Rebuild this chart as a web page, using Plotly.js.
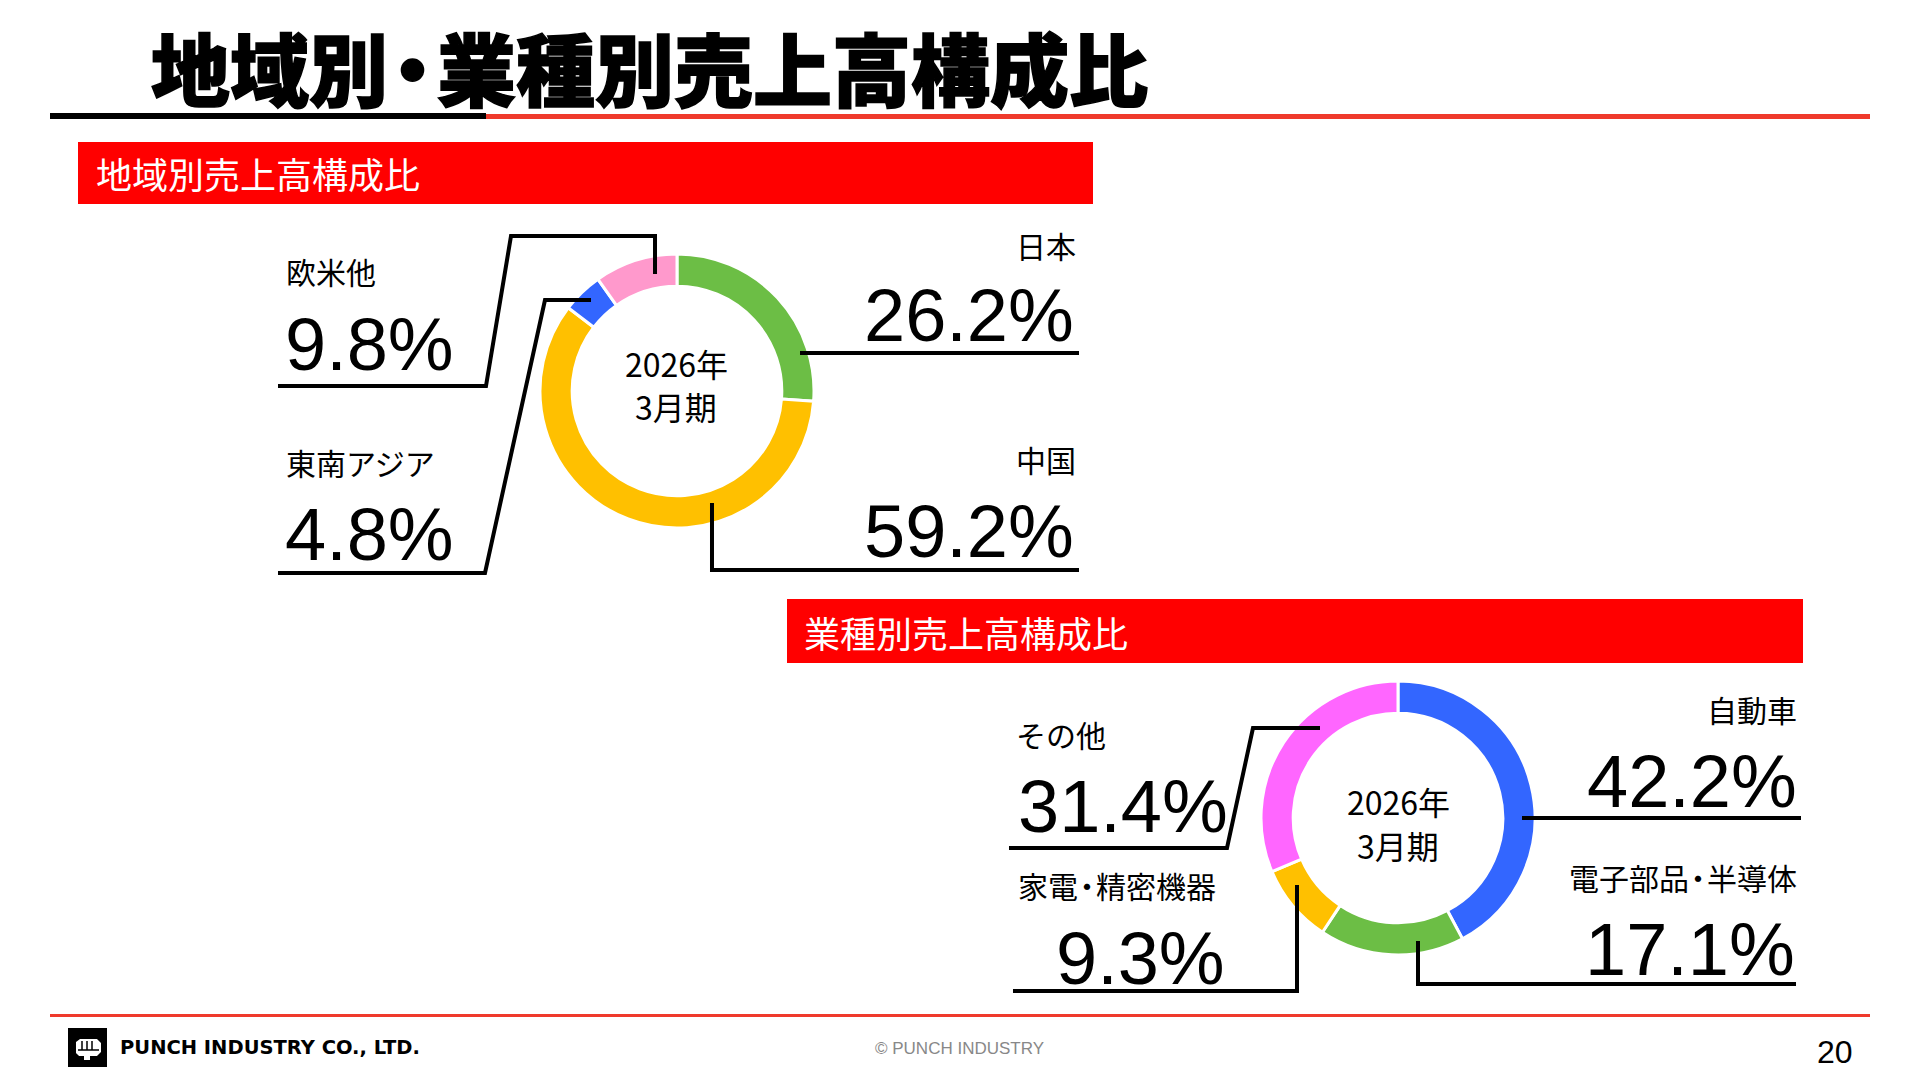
<!DOCTYPE html>
<html>
<head>
<meta charset="utf-8">
<script src="https://cdn.plot.ly/plotly-3.0.1.min.js"></script>
<style>
html,body{margin:0;padding:0;background:#fff;}
#chart{width:1920px;height:1080px;}
</style>
</head>
<body>
<div id="chart"></div>
<script>
// ---- data ----
const pageTitle = '地域別・業種別売上高構成比';
const regionSectionTitle = '地域別売上高構成比';
const industrySectionTitle = '業種別売上高構成比';
const periodLines = ['2026年', '3月期'];

const regionLabels = ['日本', '中国', '東南アジア', '欧米他'];
const regionValues = [26.2, 59.2, 4.8, 9.8];
const regionColors = ['#6cbe45', '#ffc000', '#3366ff', '#ff99cc'];

const industryLabels = ['自動車', '電子部品・半導体', '家電・精密機器', 'その他'];
const industryValues = [42.2, 17.1, 9.3, 31.4];
const industryColors = ['#3366ff', '#6cbe45', '#ffc000', '#ff66ff'];

const companyName = 'PUNCH INDUSTRY CO., LTD.';
const copyrightText = '© PUNCH INDUSTRY';
const pageNumber = '20';

// ---- layout helpers (pixel -> paper) ----
const W = 1920, H = 1080;
const px = x => x / W;
const py = y => 1 - y / H;
function pathOf(pts) {
  return pts.map((p, i) => (i ? 'L ' : 'M ') + px(p[0]).toFixed(5) + ' ' + py(p[1]).toFixed(5)).join(' ');
}
function donutDomain(cx, cy, r) {
  return {x: [px(cx - r), px(cx + r)], y: [py(cy + r), py(cy - r)]};
}
// tighten the full-width middle dot (proportional spacing as in the original)
function tightDot(s, sp) {
  return s.replace(/(.)・/g, (m, c) => '<span style="letter-spacing:' + sp + 'px">' + c + '・</span>');
}

const JP = '"Noto Sans CJK JP", "Noto Sans", sans-serif';
const NUM = '"Liberation Sans", Arial, sans-serif';

// positions of label / value text per slice: [x, y, anchor]
const regionNamePos = [[1078, 245, 'right'], [1078, 459, 'right'], [284, 462, 'left'], [284, 271, 'left']];
const regionValuePos = [[1076, 316, 'right'], [1076, 531, 'right'], [283, 534, 'left'], [283, 344, 'left']];
const regionLeaders = [
  [[800, 353], [1079, 353]],
  [[712, 503], [712, 570], [1079, 570]],
  [[278, 573], [485, 573], [545, 300], [591, 300]],
  [[278, 386], [486, 386], [511, 236], [655, 236], [655, 274]]
];

const industryNamePos = [[1799, 709, 'right'], [1799, 877, 'right'], [1016, 885, 'left'], [1014, 734, 'left']];
const industryValuePos = [[1799, 781, 'right'], [1797, 949, 'right'], [1227, 958, 'right'], [1016, 806, 'left']];
const industryLeaders = [
  [[1522, 818], [1801, 818]],
  [[1418, 941], [1418, 984], [1796, 984]],
  [[1013, 991], [1297, 991], [1297, 885]],
  [[1009, 848], [1227, 848], [1253, 728], [1320, 728]]
];

const donut1 = {cx: 677, cy: 391, r: 137};
const donut2 = {cx: 1398, cy: 818, r: 137};

const traces = [
  {
    type: 'pie', labels: regionLabels, values: regionValues, sort: false,
    direction: 'clockwise', rotation: 0, hole: 0.765,
    marker: {colors: regionColors, line: {color: '#ffffff', width: 3}},
    textinfo: 'none', hoverinfo: 'label+value', showlegend: false,
    domain: donutDomain(donut1.cx, donut1.cy, donut1.r)
  },
  {
    type: 'pie', labels: industryLabels, values: industryValues, sort: false,
    direction: 'clockwise', rotation: 0, hole: 0.765,
    marker: {colors: industryColors, line: {color: '#ffffff', width: 3}},
    textinfo: 'none', hoverinfo: 'label+value', showlegend: false,
    domain: donutDomain(donut2.cx, donut2.cy, donut2.r)
  }
];

const shapes = [];
const annotations = [];

function ann(text, x, y, anchor, font) {
  annotations.push({
    text: text, xref: 'paper', yref: 'paper', x: px(x), y: py(y),
    xanchor: anchor, yanchor: 'middle', showarrow: false, align: anchor,
    font: font
  });
}
function rect(x0, y0, x1, y1, color) {
  shapes.push({type: 'rect', xref: 'paper', yref: 'paper', x0: px(x0), x1: px(x1), y0: py(y1), y1: py(y0),
    fillcolor: color, line: {width: 0}, layer: 'below'});
}
function leader(pts) {
  shapes.push({type: 'path', xref: 'paper', yref: 'paper', path: pathOf(pts),
    line: {color: '#000000', width: 4}, fillcolor: 'rgba(0,0,0,0)', layer: 'above'});
}

// page title and rule
ann('<span style="stroke:#000;stroke-width:1.5px">' + tightDot(pageTitle, -15) + '</span>', 149, 67, 'left',
    {family: JP, size: 79, color: '#000', weight: 900});
rect(50, 113, 486, 119, '#000000');
rect(486, 114, 1870, 119, '#ef3a2c');

// section headers
rect(78, 142, 1093, 204, '#ff0000');
ann(regionSectionTitle, 94, 173, 'left', {family: JP, size: 36, color: '#ffffff', weight: 400});
rect(787, 599, 1803, 663, '#ff0000');
ann(industrySectionTitle, 802, 632, 'left', {family: JP, size: 36, color: '#ffffff', weight: 400});

// donut centre texts
ann(periodLines[0], donut1.cx - 1, 363, 'center', {family: JP, size: 32, color: '#000', weight: 400});
ann(periodLines[1], donut1.cx - 1, 406, 'center', {family: JP, size: 32, color: '#000', weight: 400});
ann(periodLines[0], donut2.cx, 801, 'center', {family: JP, size: 32, color: '#000', weight: 400});
ann(periodLines[1], donut2.cx, 845, 'center', {family: JP, size: 32, color: '#000', weight: 400});

// slice labels
const labelFont = {family: JP, size: 30, color: '#000', weight: 400};
const valueFont = {family: NUM, size: 74, color: '#000'};
regionLabels.forEach((lab, i) => {
  const n = regionNamePos[i], v = regionValuePos[i];
  ann(tightDot(lab, -6), n[0], n[1], n[2], labelFont);
  ann(regionValues[i].toFixed(1) + '%', v[0], v[1], v[2], valueFont);
  leader(regionLeaders[i]);
});
industryLabels.forEach((lab, i) => {
  const n = industryNamePos[i], v = industryValuePos[i];
  ann(tightDot(lab, -6), n[0], n[1], n[2], labelFont);
  ann(industryValues[i].toFixed(1) + '%', v[0], v[1], v[2], valueFont);
  leader(industryLeaders[i]);
});

// footer
rect(50, 1014, 1870, 1017, '#ef3a2c');
rect(68, 1028, 107, 1067, '#000000');
// simplified fist logo
shapes.push({type: 'path', xref: 'paper', yref: 'paper',
  path: pathOf([[76, 1042], [80, 1039], [97, 1039], [101, 1043], [101, 1052], [97, 1056], [90, 1056], [90, 1060], [84, 1060], [84, 1056], [79, 1056], [76, 1053], [76, 1042]]) + ' Z',
  fillcolor: '#ffffff', line: {width: 0}, layer: 'above'});
[82, 87, 92].forEach(x => shapes.push({type: 'line', xref: 'paper', yref: 'paper',
  x0: px(x), x1: px(x), y0: py(1041), y1: py(1050), line: {color: '#000', width: 1.5}}));
shapes.push({type: 'line', xref: 'paper', yref: 'paper', x0: px(78), x1: px(99), y0: py(1050), y1: py(1050), line: {color: '#000', width: 1.5}});

ann(companyName, 118, 1047, 'left', {family: '"DejaVu Sans", sans-serif', size: 19.5, color: '#000', weight: 'bold'});
ann(copyrightText, 959, 1048, 'center', {family: NUM, size: 17, color: '#888888'});
ann(pageNumber, 1855, 1052, 'right', {family: NUM, size: 32, color: '#000'});

const layout = {
  width: W, height: H,
  margin: {l: 0, r: 0, t: 0, b: 0, pad: 0},
  paper_bgcolor: '#ffffff', plot_bgcolor: '#ffffff',
  showlegend: false,
  shapes: shapes,
  annotations: annotations
};

Plotly.newPlot('chart', traces, layout, {displayModeBar: false, staticPlot: true});
</script>
</body>
</html>
